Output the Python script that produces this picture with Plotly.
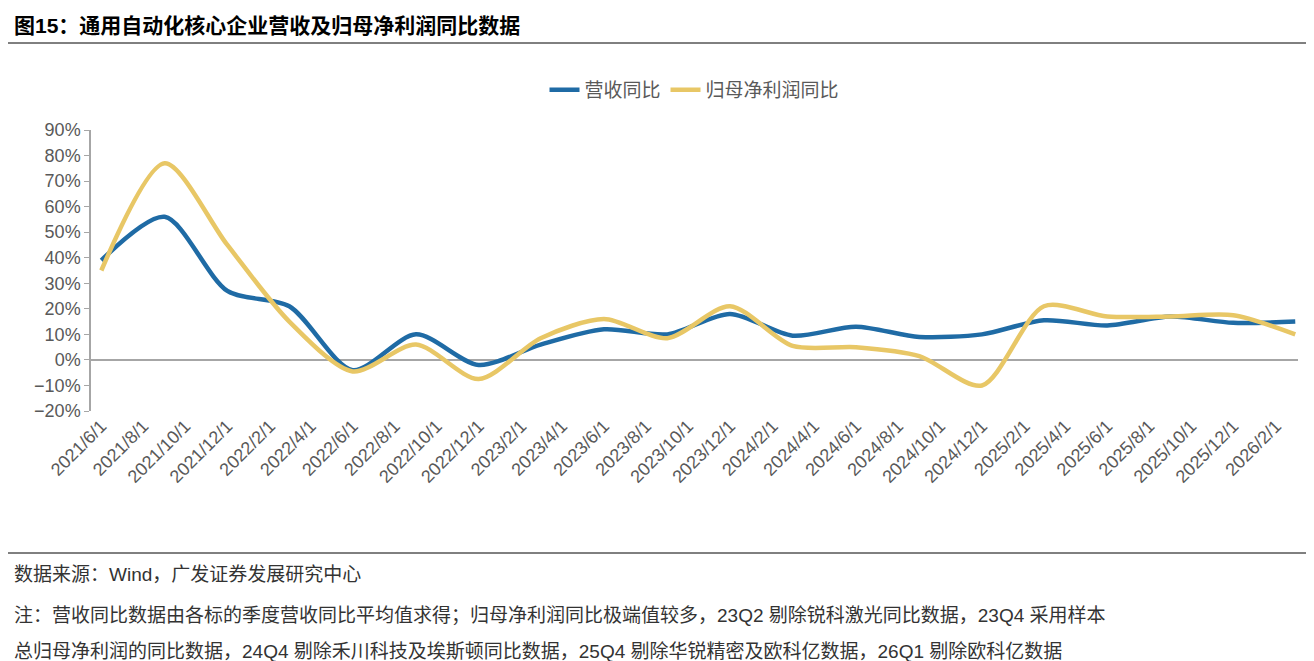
import plotly.graph_objects as go

dates = ["2021-06-01", "2021-09-01", "2021-12-01", "2022-03-01", "2022-06-01", "2022-09-01",
         "2022-12-01", "2023-03-01", "2023-06-01", "2023-09-01", "2023-12-01", "2024-03-01",
         "2024-06-01", "2024-09-01", "2024-12-01", "2025-03-01", "2025-06-01", "2025-09-01",
         "2025-12-01", "2026-03-01"]
revenue = [39, 56, 27, 21, -4, 10, -2, 6, 12, 10, 18, 9.5, 13, 9, 10, 15.5, 13.5, 17, 14.5, 15]
profit = [35, 77, 45, 15, -4.5, 6, -7.5, 8.5, 16, 8.5, 21, 5.5, 5, 1.5, -10, 21, 17, 17, 17.5, 10]
tick_dates = ["2021-06-01", "2021-08-01", "2021-10-01", "2021-12-01", "2022-02-01", "2022-04-01",
              "2022-06-01", "2022-08-01", "2022-10-01", "2022-12-01", "2023-02-01", "2023-04-01",
              "2023-06-01", "2023-08-01", "2023-10-01", "2023-12-01", "2024-02-01", "2024-04-01",
              "2024-06-01", "2024-08-01", "2024-10-01", "2024-12-01", "2025-02-01", "2025-04-01",
              "2025-06-01", "2025-08-01", "2025-10-01", "2025-12-01", "2026-02-01"]
tick_text = [d[:4] + "/" + str(int(d[5:7])) + "/1" for d in tick_dates]

W, H = 1314, 661
ML, MR, MT, MB = 83, 24, 122, 258
FONT = "Liberation Sans, Noto Sans CJK SC, sans-serif"
GREY = "#595959"


def py(pix):
    return (H - MB - pix) / (H - MT - MB)


def px(pix):
    return (pix - ML) / (W - ML - MR)


fig = go.Figure()
fig.add_trace(go.Scatter(x=dates, y=revenue, name="营收同比", mode="lines",
                         line=dict(color="#1F6BA5", width=4.5, shape="spline", smoothing=0.8)))
fig.add_trace(go.Scatter(x=dates, y=profit, name="归母净利润同比", mode="lines",
                         line=dict(color="#E8C766", width=4.5, shape="spline", smoothing=0.8)))

fig.update_xaxes(range=["2021-05-17", "2026-03-05"], tickvals=tick_dates, ticktext=tick_text,
                 tickangle=-45, tickfont=dict(size=18, color=GREY, family=FONT),
                 showgrid=False, showline=False, ticks="")
fig.update_yaxes(range=[-20, 90], dtick=10, ticksuffix="%", showgrid=False,
                 showline=True, linecolor="#A6A6A6", linewidth=1.5, ticks="outside",
                 ticklen=5, tickcolor="#A6A6A6",
                 zeroline=True, zerolinecolor="#A6A6A6", zerolinewidth=1.5,
                 tickfont=dict(size=18, color=GREY, family=FONT))

shapes = [
    dict(type="line", xref="paper", yref="paper", x0=px(0), x1=px(W), y0=py(35), y1=py(35),
         line=dict(color="#000000", width=1)),
    dict(type="line", xref="paper", yref="paper", x0=px(0), x1=px(W), y0=py(545), y1=py(545),
         line=dict(color="#000000", width=1)),
]
annotations = [
    dict(text="<b>图15：通用自动化核心企业营收及归母净利润同比数据</b>", x=px(4), y=py(17),
         font=dict(size=21, color="#000000", family=FONT)),
    dict(text="数据来源：Wind，广发证券发展研究中心", x=px(4), y=py(566),
         font=dict(size=19, color="#333333", family=FONT)),
    dict(text="注：营收同比数据由各标的季度营收同比平均值求得；归母净利润同比极端值较多，23Q2 剔除锐科激光同比数据，23Q4 采用样本",
         x=px(4), y=py(607), font=dict(size=19, color="#333333", family=FONT)),
    dict(text="总归母净利润的同比数据，24Q4 剔除禾川科技及埃斯顿同比数据，25Q4 剔除华锐精密及欧科亿数据，26Q1 剔除欧科亿数据",
         x=px(4), y=py(643), font=dict(size=19, color="#333333", family=FONT)),
]
for a in annotations:
    a.update(xref="paper", yref="paper", xanchor="left", yanchor="middle", showarrow=False)

fig.update_layout(
    width=W, height=H, margin=dict(l=ML, r=MR, t=MT, b=MB),
    plot_bgcolor="white", paper_bgcolor="white",
    legend=dict(orientation="h", x=0.5, xanchor="center", y=py(82), yanchor="middle",
                font=dict(size=19, color=GREY, family=FONT)),
    shapes=shapes, annotations=annotations,
)

fig.write_html("out.html")
